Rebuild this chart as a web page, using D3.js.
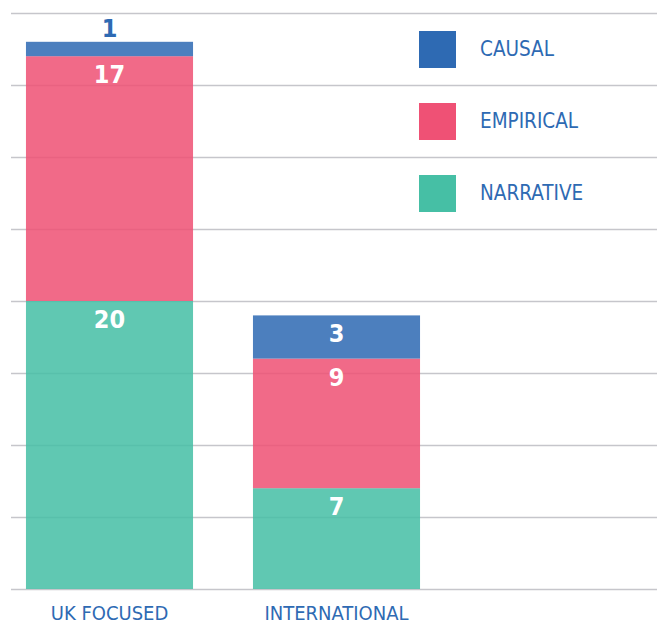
<!DOCTYPE html>
<html>
<head>
<meta charset="utf-8">
<script src="https://cdn.jsdelivr.net/npm/d3@7"></script>
<style>
	body { margin: 0; background: #fff; }
	svg text { font-family: "DejaVu Sans Condensed", "DejaVu Sans", sans-serif; }
</style>
</head>
<body>
<div id="chart"></div>
<script>
// Chart data
var categories = ["UK FOCUSED", "INTERNATIONAL"];
var seriesNames = ["NARRATIVE", "EMPIRICAL", "CAUSAL"];
var narrative = [20, 7];
var empirical = [17, 9];
var causal = [1, 3];
var gridTicks = [0, 5, 10, 15, 20, 25, 30, 35, 40];

var colors = {"CAUSAL": "#2e6ab3", "EMPIRICAL": "#ef5175", "NARRATIVE": "#46bfa5"};
var labelBlue = "#2e6ab3";

var width = 657, height = 625;

var svg = d3.select("#chart").append("svg")
	.attr("width", width)
	.attr("height", height);

var x = d3.scaleBand()
	.domain(categories)
	.range([-4, 450])
	.paddingInner(0.264)
	.paddingOuter(0.132);

var y = d3.scaleLinear()
	.domain([0, 40])
	.range([589, 13]);

// gridlines
svg.append("g").selectAll("line")
	.data(gridTicks)
	.enter().append("line")
	.attr("x1", 11).attr("x2", width)
	.attr("y1", function(d){ return Math.round(y(d)) + 0.5; })
	.attr("y2", function(d){ return Math.round(y(d)) + 0.5; })
	.attr("stroke", "#c6c6cb")
	.attr("stroke-width", 1.3);

// stacked bars
var rows = categories.map(function(c, i){
	return {cat: c, NARRATIVE: narrative[i], EMPIRICAL: empirical[i], CAUSAL: causal[i]};
});
var stack = d3.stack().keys(seriesNames)(rows);

var layers = svg.append("g").selectAll("g")
	.data(stack)
	.enter().append("g")
	.attr("fill", function(d){ return colors[d.key]; })
	.attr("fill-opacity", 0.86);

layers.selectAll("rect")
	.data(function(d){ return d; })
	.enter().append("rect")
	.attr("x", function(d){ return x(d.data.cat); })
	.attr("width", x.bandwidth())
	.attr("y", function(d){ return y(d[1]); })
	.attr("height", function(d){ return y(d[0]) - y(d[1]); });

// value labels
stack.forEach(function(layer){
	layer.forEach(function(d){
		var v = d[1] - d[0];
		var small = (y(d[0]) - y(d[1])) < 30;
		svg.append("text")
			.attr("x", x(d.data.cat) + x.bandwidth()/2)
			.attr("y", small ? y(d[1]) - 5 : y(d[1]) + 27)
			.attr("text-anchor", "middle")
			.attr("font-size", 25)
			.attr("font-weight", "bold")
			.attr("fill", small ? labelBlue : "#fff")
			.text(v);
	});
});

// category labels
svg.append("g").selectAll("text")
	.data(categories)
	.enter().append("text")
	.attr("x", function(d){ return x(d) + x.bandwidth()/2; })
	.attr("y", 620)
	.attr("text-anchor", "middle")
	.attr("font-size", 20)
	.attr("fill", labelBlue)
	.text(function(d){ return d; });

// legend
var legendKeys = ["CAUSAL", "EMPIRICAL", "NARRATIVE"];
var legend = svg.append("g").selectAll("g")
	.data(legendKeys)
	.enter().append("g")
	.attr("transform", function(d, i){ return "translate(419," + (31 + i*72) + ")"; });

legend.append("rect")
	.attr("width", 37).attr("height", 37)
	.attr("fill", function(d){ return colors[d]; });

legend.append("text")
	.attr("x", 61)
	.attr("y", 25)
	.attr("font-size", 20.5)
	.attr("fill", labelBlue)
	.text(function(d){ return d; });
</script>
</body>
</html>
